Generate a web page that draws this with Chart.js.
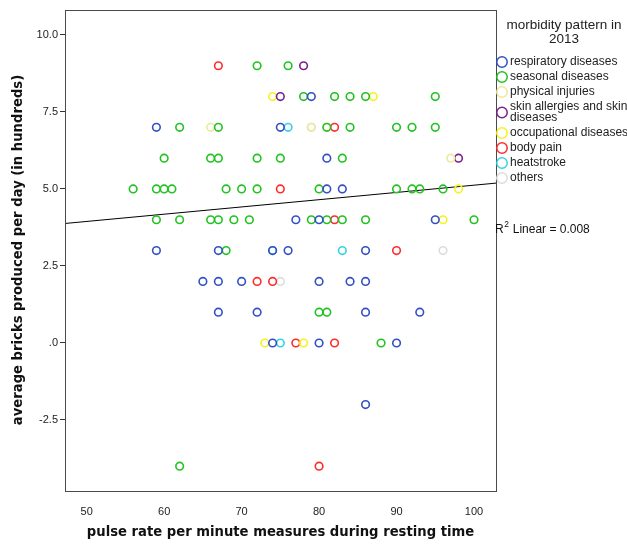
<!DOCTYPE html>
<html>
<head>
<meta charset="utf-8">
<script src="https://cdn.jsdelivr.net/npm/chart.js@4.4.1/dist/chart.umd.min.js"></script>
<style>
  html, body { margin: 0; padding: 0; background: #fff; }
  #wrap { width: 627px; height: 546px; }
</style>
</head>
<body>
<div id="wrap"><canvas id="chart" width="627" height="546"></canvas></div>
<script>
// morbidity categories (legend order)
const categories = [
  'respiratory diseases',
  'seasonal diseases',
  'physical injuries',
  'skin allergies and skin diseases',
  'occupational diseases',
  'body pain',
  'heatstroke',
  'others'
];
const catColors = ['#3350c4', '#22c222', '#eee89a', '#7d1f8c', '#f6f21e', '#ff2b2b', '#35d3e0', '#dcdcdc'];

// pulse rate (x) and bricks per day (y), one pair of arrays per category
const respiratoryX = [79, 59, 75, 81, 81, 83, 77, 80, 95, 59, 67, 74, 76, 86, 65, 67, 70, 80, 84, 86, 67, 72, 86, 93, 74, 80, 90, 86];
const respiratoryY = [8, 7, 7, 6, 5, 5, 4, 4, 4, 3, 3, 3, 3, 3, 2, 2, 2, 2, 2, 2, 1, 1, 1, 1, 0, 0, 0, -2];

const seasonalX = [72, 76, 78, 82, 84, 86, 95, 62, 67, 81, 84, 90, 92, 95, 60, 66, 67, 72, 75, 83,
  56, 59, 60, 61, 68, 70, 72, 80, 90, 92, 93, 96, 59, 62, 66, 67, 69, 71, 79, 81, 83, 86, 100, 68, 80, 81, 88, 62];
const seasonalY = [9, 9, 8, 8, 8, 8, 8, 7, 7, 7, 7, 7, 7, 7, 6, 6, 6, 6, 6, 6,
  5, 5, 5, 5, 5, 5, 5, 5, 5, 5, 5, 5, 4, 4, 4, 4, 4, 4, 4, 4, 4, 4, 4, 3, 1, 1, 0, -4];

const injuriesX = [66, 79, 81, 97];
const injuriesY = [7, 7, 7, 6];

const skinX = [78, 75, 98];
const skinY = [9, 8, 6];

const occupationalX = [74, 87, 98, 96, 73, 78];
const occupationalY = [8, 8, 5, 4, 0, 0];

const bodyPainX = [67, 82, 75, 82, 90, 72, 74, 77, 82, 80];
const bodyPainY = [9, 7, 5, 4, 3, 2, 2, 0, 0, -4];

const heatstrokeX = [76, 83, 74, 75];
const heatstrokeY = [7, 3, 3, 0];

const othersX = [79, 96, 75];
const othersY = [7, 3, 2];

// linear fit line end points
const fitX = [47.2, 102.84];
const fitY = [3.88, 5.19];
const rSquared = '0.008';

const xTickValues = [50, 60, 70, 80, 90, 100];
const yTickValues = [-2.5, 0, 2.5, 5, 7.5, 10];

const xTitle = 'pulse rate per minute measures during resting time';
const yTitle = 'average bricks produced per day (in hundreds)';
const legendTitle = ['morbidity pattern in', '2013'];

const seriesX = [respiratoryX, seasonalX, injuriesX, skinX, occupationalX, bodyPainX, heatstrokeX, othersX];
const seriesY = [respiratoryY, seasonalY, injuriesY, skinY, occupationalY, bodyPainY, heatstrokeY, othersY];

function toPoints(xs, ys) {
  return xs.map((x, i) => ({ x: x, y: ys[i] }));
}

const datasets = categories.map((name, i) => ({
  label: name,
  data: toPoints(seriesX[i], seriesY[i]),
  pointRadius: 3.8,
  pointHoverRadius: 3.8,
  pointBorderWidth: 1.6,
  borderColor: catColors[i],
  pointBorderColor: catColors[i],
  pointBackgroundColor: 'rgba(0,0,0,0)',
  showLine: false
}));

datasets.push({
  label: 'fit',
  type: 'line',
  data: toPoints(fitX, fitY),
  borderColor: '#000',
  borderWidth: 1,
  pointRadius: 0,
  fill: false
});

const sansFont = "'Liberation Sans', Arial, sans-serif";
const boldFont = "'DejaVu Sans', Verdana, sans-serif";

function wrapText(ctx, text, maxWidth) {
  const words = text.split(' ');
  const lines = [];
  let line = '';
  words.forEach(w => {
    const test = line ? line + ' ' + w : w;
    if (ctx.measureText(test).width > maxWidth && line) {
      lines.push(line);
      line = w;
    } else {
      line = test;
    }
  });
  lines.push(line);
  return lines;
}

// titles, frame, legend and R2 label
const decorPlugin = {
  id: 'decor',
  afterDraw(chart) {
    const ctx = chart.ctx;
    const a = chart.chartArea;
    ctx.save();

    // plot frame
    ctx.strokeStyle = '#4a4a4a';
    ctx.lineWidth = 1;
    ctx.strokeRect(a.left + 0.5, a.top + 0.5, a.right - a.left, a.bottom - a.top);

    // axis titles
    ctx.fillStyle = '#111';
    ctx.font = 'bold 13.2px ' + boldFont;
    ctx.textAlign = 'center';
    ctx.textBaseline = 'middle';
    ctx.fillText(xTitle, (a.left + a.right) / 2, 533);
    ctx.save();
    ctx.translate(19, 250);
    ctx.rotate(-Math.PI / 2);
    ctx.fillText(yTitle, 0, 0);
    ctx.restore();

    // legend title
    ctx.fillStyle = '#222';
    ctx.font = '13.5px ' + sansFont;
    ctx.fillText(legendTitle[0], 564, 25);
    ctx.fillText(legendTitle[1], 564, 39);

    // legend items
    ctx.font = '12px ' + sansFont;
    ctx.textAlign = 'left';
    let y = 62;
    categories.forEach((name, i) => {
      const lines = wrapText(ctx, name, 119);
      const markerY = y + (lines.length - 1) * 5.5;
      ctx.beginPath();
      ctx.arc(502, markerY, 5.2, 0, Math.PI * 2);
      ctx.strokeStyle = catColors[i];
      ctx.lineWidth = 1.5;
      ctx.stroke();
      ctx.fillStyle = '#222';
      lines.forEach((ln, k) => ctx.fillText(ln, 510, y + k * 11));
      y += 15 + (lines.length - 1) * 11;
    });

    // R squared label
    ctx.fillStyle = '#111';
    ctx.font = '12px ' + sansFont;
    ctx.fillText('R', 495, 230);
    const rw = ctx.measureText('R').width;
    ctx.font = '8.5px ' + sansFont;
    ctx.fillText('2', 495 + rw + 0.5, 225);
    const sw = ctx.measureText('2').width;
    ctx.font = '12px ' + sansFont;
    ctx.fillText(' Linear = ' + rSquared, 495 + rw + sw + 1, 230);

    ctx.restore();
  }
};

new Chart(document.getElementById('chart'), {
  type: 'scatter',
  data: { datasets: datasets },
  options: {
    responsive: false,
    animation: false,
    devicePixelRatio: 1,
    layout: { padding: { left: 0, top: 10, right: 131, bottom: 0 } },
    plugins: {
      legend: { display: false },
      tooltip: { enabled: false }
    },
    scales: {
      x: {
        type: 'linear',
        min: 47.2,
        max: 102.84,
        afterBuildTicks: s => { s.ticks = xTickValues.map(v => ({ value: v })); },
        afterFit: s => { s.height = 55; },
        grid: { display: false },
        border: { display: false },
        ticks: {
          color: '#222',
          padding: 6,
          maxRotation: 0,
          font: { family: sansFont, size: 11 }
        }
      },
      y: {
        type: 'linear',
        min: -4.805,
        max: 10.81,
        afterBuildTicks: s => { s.ticks = yTickValues.map(v => ({ value: v })); },
        afterFit: s => { s.width = 65; },
        grid: {
          drawOnChartArea: false,
          drawTicks: true,
          tickLength: 5,
          color: '#333'
        },
        border: { display: false },
        ticks: {
          color: '#222',
          padding: 2,
          font: { family: sansFont, size: 11 },
          callback: v => v === 0 ? '.0' : v.toFixed(1)
        }
      }
    }
  },
  plugins: [decorPlugin]
});
</script>
</body>
</html>
